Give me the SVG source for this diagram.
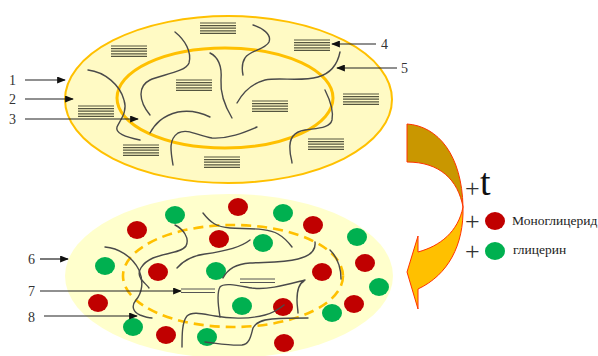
<svg xmlns="http://www.w3.org/2000/svg" xmlns:xlink="http://www.w3.org/1999/xlink" width="598" height="356" viewBox="0 0 598 356">
  <style>
    .lbl { font-family: "Liberation Serif", "Times New Roman", serif; font-size: 14px; fill: #333; }
    .leg { font-family: "Liberation Serif", "Times New Roman", serif; font-size: 13.5px; fill: #222; }
    .plus { font-family: "Liberation Serif", "Times New Roman", serif; font-size: 26px; fill: #333; }
    .big { font-family: "Liberation Serif", "Times New Roman", serif; font-size: 38px; fill: #111; }
    .chain { fill: none; stroke: #4a4a4a; stroke-width: 1.4; stroke-linecap: round; }
    .ptr { fill: none; stroke: #222; stroke-width: 1.2; marker-end: url(#head); }
    .dbl { stroke: #555; stroke-width: 1; }
    .red { fill: #C00000; }
    .green { fill: #00B050; }
    .bar { stroke: #55553f; stroke-width: 1.2; }
  </style>
  <defs>
    <marker id="head" viewBox="0 0 10 8" refX="9" refY="4" markerWidth="9" markerHeight="7" markerUnits="userSpaceOnUse" orient="auto">
      <path d="M0,0 L10,4 L0,8 Z" fill="#111"/>
    </marker>
    <!-- stacked fatty-acid bars -->
    <g id="bars">
      <line class="bar" x1="0" y1="0" x2="36" y2="0"/>
      <line class="bar" x1="0" y1="2.6" x2="36" y2="2.6"/>
      <line class="bar" x1="0" y1="5.2" x2="36" y2="5.2"/>
      <line class="bar" x1="0" y1="7.8" x2="36" y2="7.8"/>
      <line class="bar" x1="0" y1="10.4" x2="36" y2="10.4"/>
    </g>
    <ellipse id="dot" cx="0" cy="0" rx="10" ry="9"/>
  </defs>

  <!-- upper particle -->
  <g id="particle-top">
    <ellipse cx="228.5" cy="99.5" rx="163.5" ry="83.5" fill="#FFFAC4" stroke="#FFC000" stroke-width="2"/>
    <ellipse cx="225" cy="98" rx="108" ry="50" fill="none" stroke="#FFC000" stroke-width="3"/>
    <use xlink:href="#bars" x="111" y="46"/>
    <use xlink:href="#bars" x="200" y="23"/>
    <use xlink:href="#bars" x="176" y="80"/>
    <use xlink:href="#bars" x="78" y="106"/>
    <use xlink:href="#bars" x="123" y="145"/>
    <use xlink:href="#bars" x="204" y="157"/>
    <use xlink:href="#bars" x="252" y="101"/>
    <use xlink:href="#bars" x="294" y="40"/>
    <use xlink:href="#bars" x="343" y="94"/>
    <use xlink:href="#bars" x="308" y="139"/>
    <path class="chain" d="M88,70 C105,72 120,85 124,100 C128,112 120,120 117,127 C115,133 125,137 140,140"/>
    <path class="chain" d="M175,32 C185,40 192,52 189,63 C186,72 160,75 150,80 C138,86 138,100 150,115"/>
    <path class="chain" d="M210,53 C220,58 222,68 221,80 C220,95 226,108 232,118"/>
    <path class="chain" d="M253,25 C262,28 272,34 269,42 C265,50 250,50 245,58 C241,64 242,70 243,75"/>
    <path class="chain" d="M237,103 C242,94 250,84 265,80 C280,77 300,82 318,77 C332,73 338,62 340,52"/>
    <path class="chain" d="M150,133 C155,124 162,116 178,112 C190,110 202,113 210,117"/>
    <path class="chain" d="M173,165 C171,152 168,140 178,133 C188,128 198,136 212,138 C228,139 243,133 257,127"/>
    <path class="chain" d="M325,90 C330,100 334,110 332,120 C330,128 318,128 305,130 C292,132 289,140 290,150 C290,156 292,160 292,163"/>
  </g>

  <!-- lower particle after hydrolysis -->
  <g id="particle-bottom">
    <ellipse cx="229" cy="276" rx="164" ry="82" fill="#FFFFCC"/>
    <ellipse cx="233" cy="276" rx="110" ry="51" fill="none" stroke="#FFC000" stroke-width="2.6" stroke-dasharray="10 6"/>
    <use xlink:href="#dot" class="red" x="238" y="207"/>
    <use xlink:href="#dot" class="red" x="137" y="230"/>
    <use xlink:href="#dot" class="red" x="219" y="239"/>
    <use xlink:href="#dot" class="red" x="313" y="225"/>
    <use xlink:href="#dot" class="red" x="158" y="272"/>
    <use xlink:href="#dot" class="red" x="322" y="272"/>
    <use xlink:href="#dot" class="red" x="365" y="263"/>
    <use xlink:href="#dot" class="red" x="98" y="303"/>
    <use xlink:href="#dot" class="red" x="283" y="307"/>
    <use xlink:href="#dot" class="red" x="354" y="304"/>
    <use xlink:href="#dot" class="red" x="166" y="335"/>
    <use xlink:href="#dot" class="red" x="284" y="343"/>
    <use xlink:href="#dot" class="green" x="175" y="215"/>
    <use xlink:href="#dot" class="green" x="283" y="213"/>
    <use xlink:href="#dot" class="green" x="263" y="243"/>
    <use xlink:href="#dot" class="green" x="357" y="237"/>
    <use xlink:href="#dot" class="green" x="105" y="266"/>
    <use xlink:href="#dot" class="green" x="216" y="271"/>
    <use xlink:href="#dot" class="green" x="379" y="287"/>
    <use xlink:href="#dot" class="green" x="242" y="306"/>
    <use xlink:href="#dot" class="green" x="332" y="313"/>
    <use xlink:href="#dot" class="green" x="133" y="327"/>
    <use xlink:href="#dot" class="green" x="207" y="337"/>
    <path class="chain" d="M105,247 C118,248 132,256 139,270 C144,282 142,293 136,300 C131,306 133,312 140,315 C145,317 149,318 152,318"/>
    <path class="chain" d="M175,225 C183,229 190,238 186,246 C181,253 165,253 153,258 C142,263 136,272 141,279 C144,283 147,285 149,288"/>
    <path class="chain" d="M203,213 C210,222 216,227 230,228 C250,229 268,228 278,234 C285,238 289,243 292,247"/>
    <path class="chain" d="M177,268 C182,262 190,256 205,254 C220,252 240,248 250,240"/>
    <path class="chain" d="M223,278 C227,270 236,264 250,263 C265,262 283,263 298,259 C310,256 316,250 315,242"/>
    <path class="chain" d="M330,250 C336,256 341,266 341,279"/>
    <path class="chain" d="M220,317 C218,305 217,292 220,287 C224,282 240,286 252,288 C268,290 285,285 305,280 M304,281 C298,284 297,292 297,300 C297,306 298,310 298,313"/>
    <path class="chain" d="M182,347 C182,335 182,322 187,316 C192,311 203,314 215,316 C230,319 250,319 265,315 C273,313 279,309 284,305"/>
    <path class="chain" d="M205,342 C215,343 232,346 242,345 C250,344 251,335 253,328 C256,322 262,320 272,319 C285,318 298,318 308,318"/>
    <line class="dbl" x1="181" y1="289" x2="215" y2="289"/>
    <line class="dbl" x1="181" y1="292.5" x2="215" y2="292.5"/>
    <line class="dbl" x1="240" y1="279" x2="275" y2="279"/>
    <line class="dbl" x1="240" y1="282.5" x2="275" y2="282.5"/>
  </g>

  <!-- curved process arrow -->
  <g id="process-arrow" stroke="#FF3300" stroke-width="1" stroke-linejoin="round">
    <path d="M407,124 C438,126 462,155 463,207 C458,180 440,162 407,162 Z" fill="#C99700"/>
    <path d="M463,207 C464,245 448,275 418,289 L418,309 L407,272 L418,236 L418,252 C440,246 458,232 463,207 Z" fill="#FFC000"/>
  </g>

  <!-- legend -->
  <g id="legend">
    <text class="plus" x="465" y="197">+</text>
    <text class="big" x="480" y="195">t</text>
    <text class="plus" x="465" y="230">+</text>
    <use xlink:href="#dot" class="red" x="495" y="221"/>
    <text class="leg" x="512" y="225">Моноглицерид</text>
    <text class="plus" x="465" y="260">+</text>
    <use xlink:href="#dot" class="green" x="495" y="251"/>
    <text class="leg" x="513" y="254">глицерин</text>
  </g>

  <!-- numbered callouts -->
  <g id="connectors">
    <line class="ptr" x1="25" y1="80" x2="65" y2="80"/>
    <line class="ptr" x1="25" y1="99" x2="73" y2="99"/>
    <line class="ptr" x1="25" y1="119" x2="138" y2="119"/>
    <line class="ptr" x1="376" y1="44" x2="332" y2="44"/>
    <line class="ptr" x1="397" y1="68" x2="337" y2="68"/>
    <line class="ptr" x1="40" y1="259" x2="68" y2="259"/>
    <line class="ptr" x1="40" y1="291" x2="181" y2="291"/>
    <line class="ptr" x1="44" y1="316" x2="137" y2="316"/>
  </g>
  <g id="labels">
    <text class="lbl" x="9" y="85">1</text>
    <text class="lbl" x="9" y="104">2</text>
    <text class="lbl" x="9" y="124">3</text>
    <text class="lbl" x="381" y="49">4</text>
    <text class="lbl" x="401" y="73">5</text>
    <text class="lbl" x="28" y="264">6</text>
    <text class="lbl" x="28" y="296">7</text>
    <text class="lbl" x="28" y="322">8</text>
  </g>
</svg>
